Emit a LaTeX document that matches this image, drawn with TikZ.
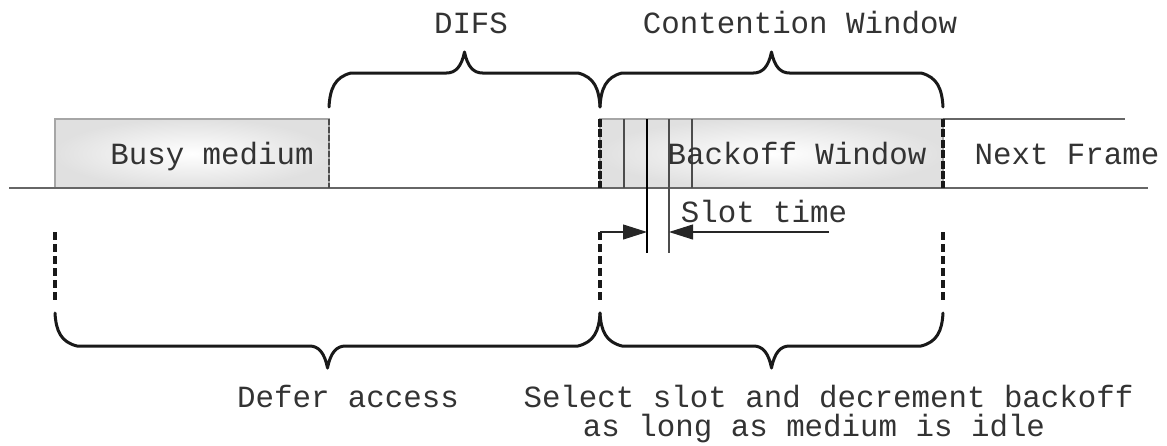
\documentclass[tikz,border=0pt]{standalone}
\usepackage{fontspec}
\setmonofont{Liberation Mono}
\usetikzlibrary{arrows.meta,fit}
\tikzset{
  lbl/.style={font=\ttfamily\fontsize{15.4}{18}\selectfont, text=black!80, inner sep=0, anchor=base},
  framebox/.style={inner sep=0, outer sep=0, inner color=white, outer color=gray!24, draw=gray!70, line width=0.7pt},
  edgedash/.style={black!90, line width=1.8pt, dash pattern=on 4pt off 1.2pt},
  busyedge/.style={black!70, line width=0.7pt, dash pattern=on 3pt off 1pt},
  guide/.style={black!90, line width=1.7pt, dash pattern=on 4pt off 2pt},
  medium/.style={gray!80!black, line width=0.8pt},
  slot/.style={black!70, line width=0.55pt},
  dim/.style={black!85, line width=0.55pt, -{Triangle[length=12pt,width=7.5pt]}},
  bracestyle/.style={black!90, line width=1.5pt, line join=round, line cap=round},
}
% #1 x left, #2 x right, #3 y of the ends, #4 y of the straight part, #5 y of the tip
\newcommand{\drawbrace}[5]{%
  \pgfmathsetmacro\brmid{(#1+#2)/2}%
  \pgfmathsetmacro\brcA{#3+0.55*(#4-#3)}%
  \pgfmathsetmacro\brcB{#4+0.12*(#3-#4)}%
  \pgfmathsetmacro\brtA{#4+0.3*(#5-#4)}%
  \draw[bracestyle] (#1,#3) .. controls (#1+1,\brcA) and (#1+6,\brcB) .. (#1+22,#4)
    -- (\brmid-18,#4) .. controls (\brmid-9,#4) and (\brmid-3,\brtA) .. (\brmid,#5)
    .. controls (\brmid+3,\brtA) and (\brmid+9,#4) .. (\brmid+18,#4)
    -- (#2-22,#4) .. controls (#2-6,\brcB) and (#2-1,\brcA) .. (#2,#3);%
}
\begin{document}
\begin{tikzpicture}[x=0.5pt,y=-0.5pt]
\useasboundingbox (0,0) rectangle (1167,445);

% frames
\node[framebox, fit={(55,119) (329,188)}] (busy) {};
\node[framebox, fit={(600,119) (943,188)}] (backoff) {};

% medium lines
\coordinate (m0) at (9,188);
\coordinate (m1) at (1148,188);
\coordinate (nf1) at (1125,119);
\draw[medium] (m0) -- (m1);
\draw[medium] (backoff.north east) -- (nf1);

% slot lines
\coordinate (s1t) at (624,119); \coordinate (s1b) at (624,188);
\coordinate (s2t) at (647,119); \coordinate (s2b) at (647,253);
\coordinate (s3t) at (669,119); \coordinate (s3b) at (669,253);
\coordinate (s4t) at (692,119); \coordinate (s4b) at (692,188);
\draw[slot] (s1t) -- (s1b);
\draw[slot, black] (s2t) -- (s2b);
\draw[slot] (s3t) -- (s3b);
\draw[slot] (s4t) -- (s4b);

% frame edges
\draw[busyedge] (busy.north east) -- (busy.south east);
\draw[edgedash] (backoff.north west) -- (backoff.south west);
\draw[edgedash] (backoff.north east) -- (backoff.south east);

% guides
\coordinate (g1t) at (55,232); \coordinate (g1b) at (55,301);
\coordinate (g2t) at (600,232); \coordinate (g2b) at (600,301);
\coordinate (g3t) at (943,232); \coordinate (g3b) at (943,301);
\draw[guide] (g1t) -- (g1b);
\draw[guide] (g2t) -- (g2b);
\draw[guide] (g3t) -- (g3b);

% slot time arrows
\coordinate (a1) at (647,232);
\coordinate (b0) at (829,232);
\coordinate (b1) at (669,232);
\draw[dim] (g2t) -- (a1);
\draw[dim] (b0) -- (b1);

% braces
\drawbrace{329}{600}{107}{73}{52}
\drawbrace{600}{943}{107}{73}{52}
\drawbrace{55}{600}{313}{346}{368}
\drawbrace{600}{943}{313}{346}{368}

% labels
\node[lbl] (tbusy) at (212,164) {Busy medium};
\node[lbl] (tback) at (797,164) {Backoff Window};
\node[lbl] (tnext) at (1067,164) {Next Frame};
\node[lbl] (tslot) at (764,222) {Slot time};
\node[lbl] (tdifs) at (471,33) {DIFS};
\node[lbl] (tcw) at (800,33) {Contention Window};
\node[lbl] (tdefer) at (348,407) {Defer access};
\node[lbl] (tsel1) at (828.5,407) {Select slot and decrement backoff};
\node[lbl] (tsel2) at (814,436) {as long as medium is idle};
\end{tikzpicture}
\end{document}
